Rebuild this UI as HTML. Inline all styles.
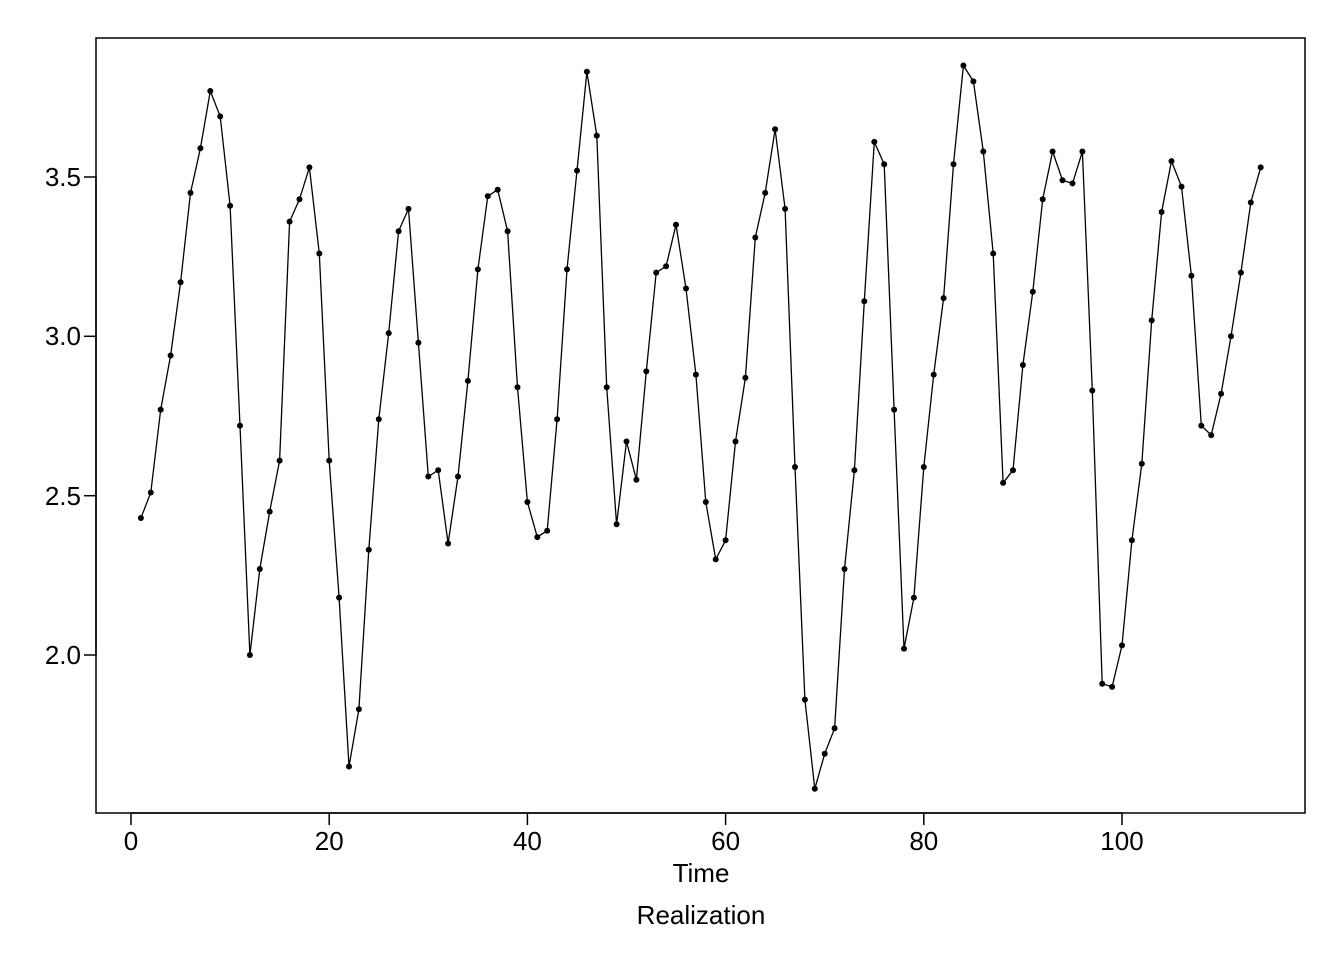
<!DOCTYPE html>
<html><head><meta charset="utf-8"><style>
html,body{margin:0;padding:0;background:#fff}
svg text{font-family:"Liberation Sans",Arial,sans-serif;font-size:26px;fill:#000}
</style></head><body>
<svg id="s" width="1344" height="960" xmlns="http://www.w3.org/2000/svg">
<rect x="96" y="38" width="1209" height="775" fill="none" stroke="#000" stroke-width="1.5"/>
<g stroke="#000" stroke-width="1.5">
<line x1="131" y1="813" x2="1122" y2="813"/>
<line x1="131" y1="813" x2="131" y2="825"/>
<line x1="329.2" y1="813" x2="329.2" y2="825"/>
<line x1="527.4" y1="813" x2="527.4" y2="825"/>
<line x1="725.6" y1="813" x2="725.6" y2="825"/>
<line x1="923.8" y1="813" x2="923.8" y2="825"/>
<line x1="1122" y1="813" x2="1122" y2="825"/>
<line x1="96" y1="177" x2="96" y2="655"/>
<line x1="84" y1="177" x2="96" y2="177"/>
<line x1="84" y1="336.3" x2="96" y2="336.3"/>
<line x1="84" y1="495.7" x2="96" y2="495.7"/>
<line x1="84" y1="655" x2="96" y2="655"/>
</g>
<g text-anchor="middle">
<text x="131" y="850">0</text><text x="329.2" y="850">20</text><text x="527.4" y="850">40</text>
<text x="725.6" y="850">60</text><text x="923.8" y="850">80</text><text x="1122" y="850">100</text>
<text x="701" y="882">Time</text><text x="701" y="924">Realization</text>
</g>
<g text-anchor="end">
<text x="81" y="186">3.5</text><text x="81" y="345">3.0</text><text x="81" y="505">2.5</text><text x="81" y="664">2.0</text>
</g>
<path id="ln" fill="none" stroke="#000" stroke-width="1.3"/>
<g id="pts"></g>
</svg>
<script>
var v=[2.43,2.51,2.77,2.94,3.17,3.45,3.59,3.77,3.69,3.41,2.72,2.00,2.27,2.45,2.61,3.36,3.43,3.53,3.26,2.61,2.18,1.65,1.83,2.33,2.74,3.01,3.33,3.40,2.98,2.56,2.58,2.35,2.56,2.86,3.21,3.44,3.46,3.33,2.84,2.48,2.37,2.39,2.74,3.21,3.52,3.83,3.63,2.84,2.41,2.67,2.55,2.89,3.20,3.22,3.35,3.15,2.88,2.48,2.30,2.36,2.67,2.87,3.31,3.45,3.65,3.40,2.59,1.86,1.58,1.69,1.77,2.27,2.58,3.11,3.61,3.54,2.77,2.02,2.18,2.59,2.88,3.12,3.54,3.85,3.80,3.58,3.26,2.54,2.58,2.91,3.14,3.43,3.58,3.49,3.48,3.58,2.83,1.91,1.90,2.03,2.36,2.60,3.05,3.39,3.55,3.47,3.19,2.72,2.69,2.82,3.00,3.20,3.42,3.53];
var d="",g="";
for(var i=0;i<v.length;i++){var x=131+(i+1)*9.91,y=655-(v[i]-2)*318.67;
d+=(i?"L":"M")+x.toFixed(1)+" "+y.toFixed(1);
g+='<circle cx="'+x.toFixed(1)+'" cy="'+y.toFixed(1)+'" r="3" fill="#000"/>';}
document.getElementById("ln").setAttribute("d",d);
document.getElementById("pts").innerHTML=g;
</script>
</body></html>
